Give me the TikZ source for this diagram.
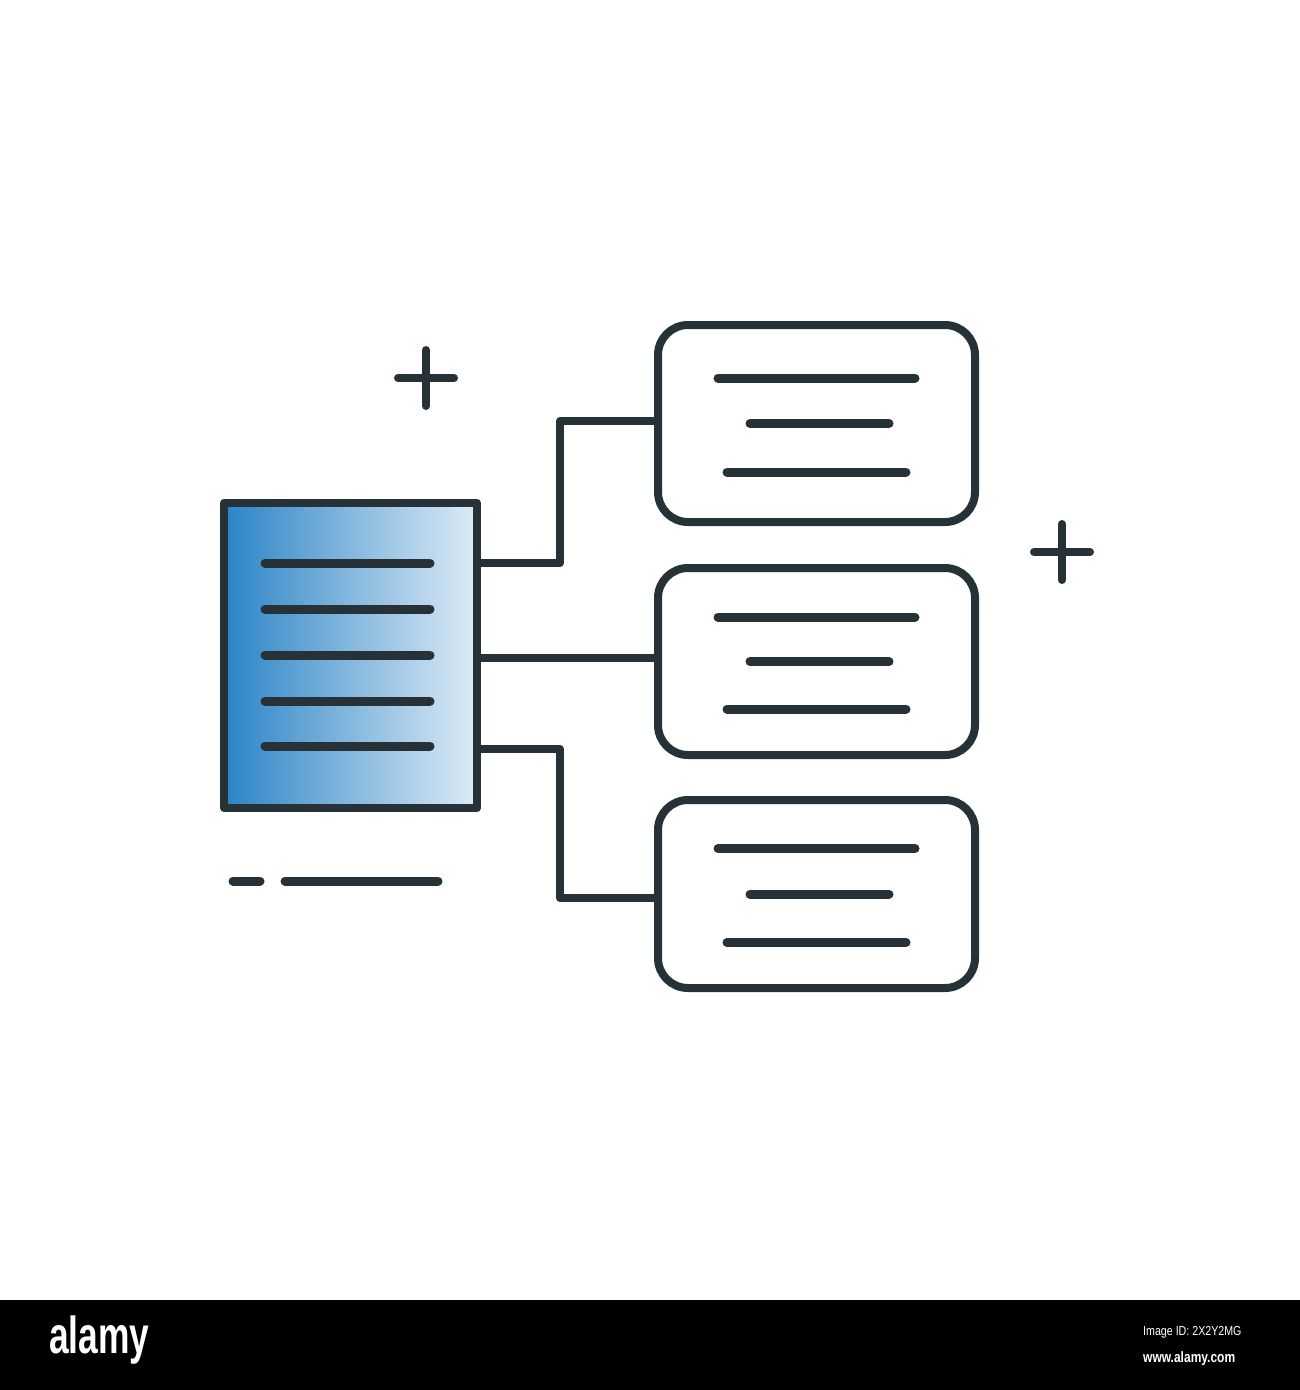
\documentclass[tikz,border=0pt]{standalone}
\usepackage{fontspec}
\setmainfont{Liberation Sans}
\usetikzlibrary{calc}
\definecolor{ink}{HTML}{263238}
\definecolor{docblue}{HTML}{2B84C6}
\definecolor{doclight}{HTML}{DEEBF6}
\begin{document}
\begin{tikzpicture}[x=1pt,y=-1pt,line join=round]
\tikzset{
  ln/.style={draw=ink,line width=9pt,line cap=round},
  conn/.style={draw=ink,line width=8pt,line cap=round},
  cardbox/.style={draw=ink,line width=8pt,rounded corners=30pt,minimum width=317pt,inner sep=0pt,fill=white},
  docbox/.style={draw=ink,line width=8pt,left color=docblue,right color=doclight,minimum width=253pt,minimum height=305pt,inner sep=0pt},
  plus/.style={draw=ink,line width=8pt,line cap=round},
  wm/.style={text=white,inner sep=0pt,anchor=west}
}
\useasboundingbox (0,0) rectangle (1300,1390);
\fill[white] (0,0) rectangle (1300,1300);
\fill[black] (0,1300) rectangle (1300,1390);

% document
\node[docbox] (doc) at (350.5,655.5) {};
\foreach \yy in {563,609,655,701,746}
  \draw[ln] ($(doc.center)+(-85.5,\yy-655.5)$) -- ($(doc.center)+(79.5,\yy-655.5)$);

% cards
\node[cardbox,minimum height=197pt] (b1) at (816.5,423.5) {};
\node[cardbox,minimum height=187pt] (b2) at (816.5,661.5) {};
\node[cardbox,minimum height=188pt] (b3) at (816.5,894) {};
\foreach \b/\o in {b1/0,b2/1,b3/0}{
  \draw[ln] ($(\b.center)+(-98.5,-45.5+\o)$) -- ($(\b.center)+(98.5,-45.5+\o)$);
  \draw[ln] ($(\b.center)+(-66.5,0)$) -- ($(\b.center)+(72.5,0)$);
  \draw[ln] ($(\b.center)+(-89.5,48.5-\o)$) -- ($(\b.center)+(89.5,48.5-\o)$);
}

% connectors
\coordinate (c1) at ([yshift=92.5pt]doc.east);
\coordinate (c2) at ([yshift=-2.5pt]doc.east);
\coordinate (c3) at ([yshift=-93.5pt]doc.east);
\coordinate (e1) at ([yshift=2.5pt]b1.west);
\coordinate (e3) at ([yshift=-4pt]b3.west);
\draw[conn] (c1) -- (560,563) |- (e1);
\draw[conn] (c2) -- (c2 -| b2.west);
\draw[conn] (c3) -- (560,749) |- (e3);

% decorations
\draw[plus] (426,350) -- (426,406) (398,378) -- (454,378);
\draw[plus] (1062,524) -- (1062,580) (1034,552) -- (1090,552);
\draw[ln] (233,881) -- (260,881);
\draw[ln] (285,881) -- (438,881);

% watermark bar
\node[wm,font=\bfseries\fontsize{52}{52}\selectfont,xscale=0.68] (logo) at (49,1340) {alamy};
\node[wm,font=\fontsize{13}{13}\selectfont,xscale=0.82] (imgid) at (1143,1332) {Image ID: 2X2Y2MG};
\node[wm,font=\bfseries\fontsize{15}{15}\selectfont,xscale=0.8] (www) at (1143,1359) {www.alamy.com};
\end{tikzpicture}
\end{document}
